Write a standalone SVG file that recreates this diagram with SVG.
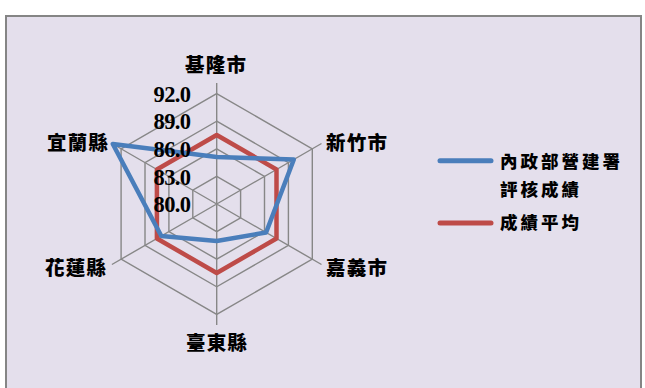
<svg xmlns="http://www.w3.org/2000/svg" width="645" height="388" viewBox="0 0 645 388">
<style>
.grid{fill:none;stroke:#878787;stroke-width:1.4}
.lbl{font-family:"Liberation Serif","Noto Sans CJK TC",serif;font-weight:900;font-size:19.5px;fill:#000;letter-spacing:1.2px}
.tick{font-family:"Liberation Serif",serif;font-weight:bold;font-size:22.5px;fill:#000;text-anchor:end;letter-spacing:-0.6px}
.leg{font-family:"Liberation Serif","Noto Sans CJK TC",serif;font-weight:900;font-size:17.5px;fill:#000;letter-spacing:3px}
.s1{fill:none;stroke:#4a7ebb;stroke-width:4.5;stroke-linejoin:round}
.s2{fill:none;stroke:#be4b48;stroke-width:4.5;stroke-linejoin:round}
</style>
<rect x="0" y="0" width="645" height="388" fill="#ffffff"/>
<rect x="6" y="16" width="635" height="385" fill="#e4dfec" stroke="#858585" stroke-width="2"/>
<g id="grid">
<polygon class="grid" points="216.7,176.4 240.6,190.2 240.6,217.8 216.7,231.6 192.8,217.8 192.8,190.2"/>
<polygon class="grid" points="216.7,148.8 264.5,176.4 264.5,231.6 216.7,259.2 168.9,231.6 168.9,176.4"/>
<polygon class="grid" points="216.7,121.2 288.4,162.6 288.4,245.4 216.7,286.8 145,245.4 145,162.6"/>
<polygon class="grid" points="216.7,93.6 312.3,148.8 312.3,259.2 216.7,314.4 121.1,259.2 121.1,148.8"/>
<path class="grid" d="M216.7,204V83M216.7,204L321.5,143.5M216.7,204L321.5,264.5M216.7,204V325M216.7,204L111.9,264.5M216.7,204L111.9,143.5"/>
</g>
<g id="connectors">
<polygon id="series-avg" class="s2" points="216.7,135 276.5,169.5 276.5,238.5 216.7,273 156.9,238.5 156.9,169.5"/>
<polygon id="series-score" class="s1" points="216.7,157 293.8,159.5 266.1,232.5 216.7,241 161.3,236 112.8,144"/>
</g>
<g id="ticks">
<text class="tick" x="190.5" y="101.7">92.0</text>
<text class="tick" x="190.5" y="129.3">89.0</text>
<text class="tick" x="190.5" y="156.9">86.0</text>
<text class="tick" x="190.5" y="184.5">83.0</text>
<text class="tick" x="190.5" y="211.5">80.0</text>
</g>
<g id="node-keelung"><text class="lbl" x="185" y="72">基隆市</text></g>
<g id="node-hsinchu"><text class="lbl" x="326" y="150">新竹市</text></g>
<g id="node-chiayi"><text class="lbl" x="326" y="275">嘉義市</text></g>
<g id="node-taitung"><text class="lbl" x="186" y="350">臺東縣</text></g>
<g id="node-hualien"><text class="lbl" x="45" y="275">花蓮縣</text></g>
<g id="node-yilan"><text class="lbl" x="47" y="150">宜蘭縣</text></g>
<g id="legend">
<line x1="440" y1="160.7" x2="491" y2="160.7" stroke="#4a7ebb" stroke-width="5" stroke-linecap="round"/>
<text class="leg" x="500" y="167.5">內政部營建署</text>
<text class="leg" x="500" y="196">評核成績</text>
<line x1="440" y1="223" x2="491" y2="223" stroke="#be4b48" stroke-width="5" stroke-linecap="round"/>
<text class="leg" x="500" y="229">成績平均</text>
</g>
</svg>
